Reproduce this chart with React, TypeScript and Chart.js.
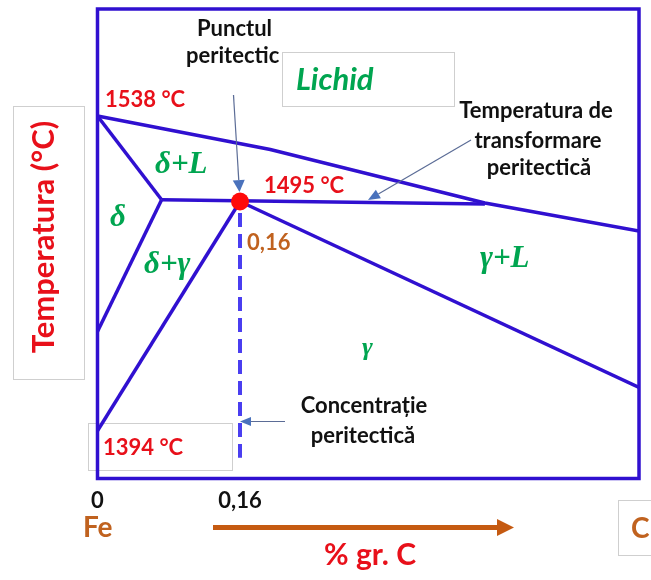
import React, { useEffect, useRef } from 'react';
import { Chart, registerables } from 'chart.js';

Chart.register(...registerables);

// ---- data (x: % gr. C, y: temperatura °C, schematic) ----
const xTickValues = [0, 0.16];
const xTickLabels = ['0', '0,16'];

const liquidusX = [0, 0.194, 0.435, 0.608];
const liquidusT = [1538, 1522.7, 1498.2, 1485.4];

const deltaSolidusX = [0, 0.072];
const deltaSolidusT = [1538, 1499.7];

const peritecticLineX = [0.072, 0.435];
const peritecticLineT = [1499.7, 1497.7];

const deltaBoundaryX = [0.072, 0];
const deltaBoundaryT = [1499.7, 1439.5];

const gammaBoundaryX = [0.16, 0];
const gammaBoundaryT = [1498.9, 1394];

const gammaSolidusX = [0.16, 0.608];
const gammaSolidusT = [1498.9, 1413.9];

const peritecticPointX = [0.16];
const peritecticPointT = [1498.9];

const concentrationX = [0.16, 0.16];
const concentrationT = [1493.6, 1381.7];

const X_MIN = 0;
const X_MAX = 0.608;
const T_MIN = 1372.2;
const T_MAX = 1586.95;

const BLUE = '#3010d0';
const RED = '#e8101a';
const GREEN = '#00a550';
const BROWN = '#c0621f';
const BOXGRAY = '#cfcfcf';

const pts = (xs: number[], ys: number[]) => xs.map((x, i) => ({ x, y: ys[i] }));

const lineDs = (label: string, xs: number[], ys: number[]) => ({
  label,
  data: pts(xs, ys),
  showLine: true,
  borderColor: BLUE,
  borderWidth: 3.5,
  pointRadius: 0,
  fill: false,
  order: 2,
});

function text(ctx: CanvasRenderingContext2D, s: string, x: number, y: number, font: string, color: string, align: CanvasTextAlign = 'left') {
  ctx.font = font;
  ctx.fillStyle = color;
  ctx.textAlign = align;
  ctx.textBaseline = 'alphabetic';
  ctx.fillText(s, x, y);
}

function arrow(ctx: CanvasRenderingContext2D, x1: number, y1: number, x2: number, y2: number, headLen: number, headW: number) {
  const dx = x2 - x1, dy = y2 - y1;
  const len = Math.hypot(dx, dy);
  const ux = dx / len, uy = dy / len;
  const bx = x2 - ux * headLen, by = y2 - uy * headLen;
  ctx.strokeStyle = '#5b6c96';
  ctx.lineWidth = 1.2;
  ctx.beginPath();
  ctx.moveTo(x1, y1);
  ctx.lineTo(bx, by);
  ctx.stroke();
  ctx.fillStyle = '#4a72bc';
  ctx.beginPath();
  ctx.moveTo(x2, y2);
  ctx.lineTo(bx - uy * headW / 2, by + ux * headW / 2);
  ctx.lineTo(bx + uy * headW / 2, by - ux * headW / 2);
  ctx.closePath();
  ctx.fill();
}

const annotations = {
  id: 'annotations',
  beforeDatasetsDraw(chart: any) {
    const ctx: CanvasRenderingContext2D = chart.ctx;
    ctx.save();
    ctx.strokeStyle = BOXGRAY;
    ctx.lineWidth = 1;
    ctx.strokeRect(13.5, 106.5, 71, 273);
    ctx.strokeRect(88.5, 423.5, 144, 47);
    ctx.strokeRect(618.5, 500.5, 40, 55);
    ctx.restore();
  },
  afterDatasetsDraw(chart: any) {
    const ctx: CanvasRenderingContext2D = chart.ctx;
    const { left, top, right, bottom } = chart.chartArea;
    const xs = chart.scales.x;
    ctx.save();

    // frame
    ctx.strokeStyle = BLUE;
    ctx.lineWidth = 3.5;
    ctx.strokeRect(left, top, right - left, bottom - top);

    // x tick labels
    xTickValues.forEach((v, i) => {
      text(ctx, xTickLabels[i], xs.getPixelForValue(v), 508, 'bold 22px Lato', '#111', 'center');
    });

    // axis titles
    text(ctx, 'Fe', 83, 537, 'bold 28px Lato', BROWN);
    text(ctx, 'C', 631, 538, 'bold 28px Lato', BROWN);
    text(ctx, '% gr. C', 370, 565, 'bold 30px Lato', RED, 'center');

    ctx.save();
    ctx.translate(54, 237);
    ctx.rotate(-Math.PI / 2);
    text(ctx, 'Temperatura (°C)', 0, 0, 'bold 31px Lato', RED, 'center');
    ctx.restore();

    // orange axis arrow
    ctx.strokeStyle = '#c55a11';
    ctx.fillStyle = '#c55a11';
    ctx.lineWidth = 5;
    ctx.beginPath();
    ctx.moveTo(213, 527.5);
    ctx.lineTo(500, 527.5);
    ctx.stroke();
    ctx.beginPath();
    ctx.moveTo(514, 527.5);
    ctx.lineTo(497, 519);
    ctx.lineTo(497, 536);
    ctx.closePath();
    ctx.fill();

    // black annotations
    const bf = 'bold 22px Lato';
    text(ctx, 'Punctul', 197, 36, bf, '#111');
    text(ctx, 'peritectic', 186, 63, bf, '#111');

    // Lichid box (white, over the text end)
    ctx.fillStyle = '#fff';
    ctx.fillRect(282, 52, 173, 55);
    ctx.strokeStyle = BOXGRAY;
    ctx.lineWidth = 1;
    ctx.strokeRect(282.5, 52.5, 172, 54);
    text(ctx, 'Lichid', 296, 90, 'italic bold 31px Lato', GREEN);

    text(ctx, 'Temperatura de', 536, 118, bf, '#111', 'center');
    text(ctx, 'transformare', 538, 148, bf, '#111', 'center');
    text(ctx, 'peritectică', 539, 175, bf, '#111', 'center');
    text(ctx, 'Concentrație', 364, 413, bf, '#111', 'center');
    text(ctx, 'peritectică', 363, 443, bf, '#111', 'center');

    // red temperatures
    const rf = 'bold 22px Lato';
    text(ctx, '1538 °C', 105, 107, rf, RED);
    text(ctx, '1495 °C', 264, 193, rf, RED);
    text(ctx, '1394 °C', 103, 455, rf, RED);

    // brown concentration
    text(ctx, '0,16', 247, 250, 'bold 22px Lato', BROWN);

    // phase labels
    const gf = 'italic bold 31px "Liberation Serif"';
    text(ctx, 'δ+L', 155, 173, gf, GREEN);
    text(ctx, 'δ', 110, 226, gf, GREEN);
    text(ctx, 'δ+γ', 144, 273, gf, GREEN);
    text(ctx, 'γ+L', 480, 267, gf, GREEN);
    text(ctx, 'γ', 362, 355, 'italic bold 26px "Liberation Serif"', GREEN);

    // pointer arrows
    arrow(ctx, 233.5, 95, 239.5, 192, 12, 12);
    arrow(ctx, 471, 140, 368, 200, 12, 10);
    arrow(ctx, 285, 421.5, 240, 421.5, 11, 9);

    ctx.restore();
  },
};

export default function App() {
  const ref = useRef<HTMLCanvasElement>(null);

  useEffect(() => {
    const chart = new Chart(ref.current as HTMLCanvasElement, {
      type: 'scatter',
      data: {
        datasets: [
          {
            label: 'Punctul peritectic',
            data: pts(peritecticPointX, peritecticPointT),
            pointRadius: 9,
            pointBackgroundColor: '#ff0a0a',
            pointBorderWidth: 0,
            showLine: false,
            order: 0,
          } as any,
          {
            label: 'Concentrație peritectică',
            data: pts(concentrationX, concentrationT),
            showLine: true,
            borderColor: '#4a3ef0',
            borderWidth: 4,
            borderDash: [14, 7],
            pointRadius: 0,
            order: 1,
          },
          lineDs('Lichidus', liquidusX, liquidusT),
          lineDs('Solidus δ', deltaSolidusX, deltaSolidusT),
          lineDs('Peritectic', peritecticLineX, peritecticLineT),
          lineDs('δ / δ+γ', deltaBoundaryX, deltaBoundaryT),
          lineDs('γ / δ+γ', gammaBoundaryX, gammaBoundaryT),
          lineDs('Solidus γ', gammaSolidusX, gammaSolidusT),
        ],
      },
      options: {
        responsive: false,
        animation: false,
        devicePixelRatio: 1,
        layout: { padding: { left: 97.5, top: 7.5, right: 12, bottom: 101.5 } },
        plugins: { legend: { display: false }, tooltip: { enabled: false } },
        scales: {
          x: { type: 'linear', min: X_MIN, max: X_MAX, display: false },
          y: { type: 'linear', min: T_MIN, max: T_MAX, display: false },
        },
      },
      plugins: [annotations],
    });
    return () => chart.destroy();
  }, []);

  return (
    <div style={{ position: 'absolute', left: 0, top: 0, width: 651, height: 580, background: '#fff' }}>
      <canvas ref={ref} width={651} height={580} />
    </div>
  );
}
